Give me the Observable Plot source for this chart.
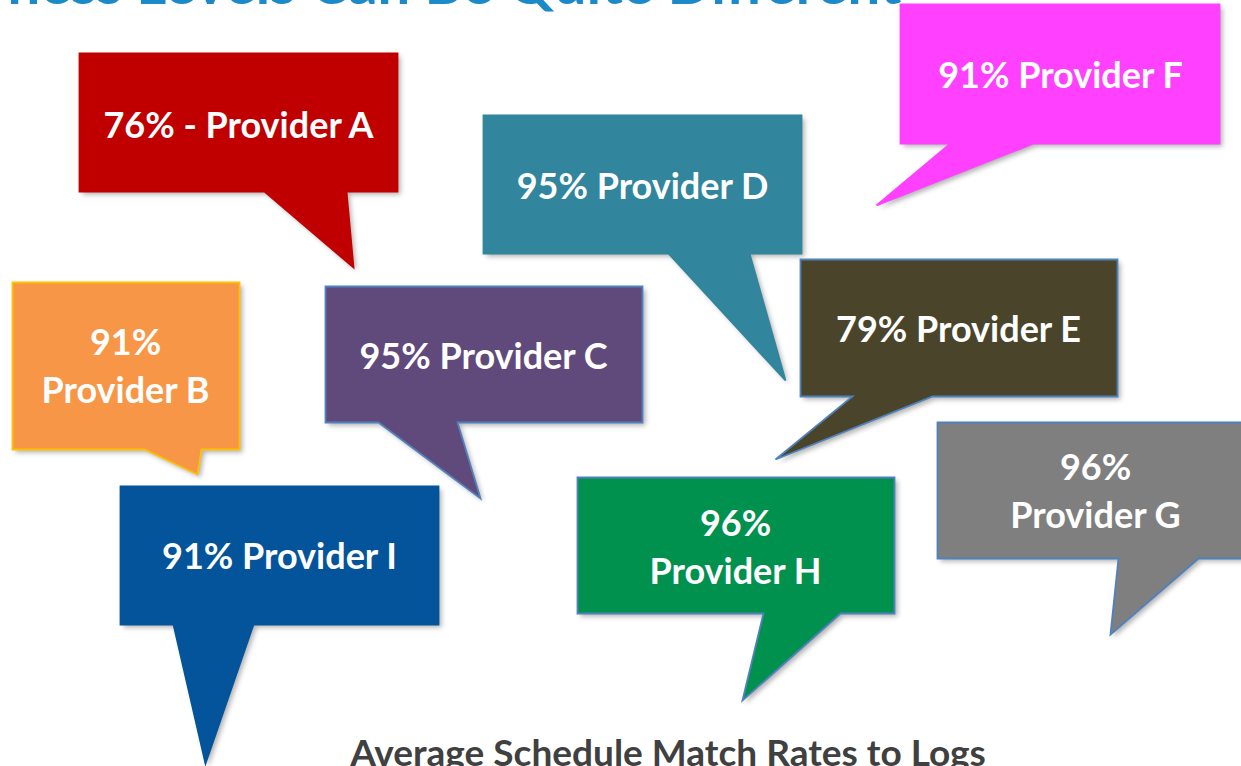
<!DOCTYPE html>
<html>
<head>
<meta charset="utf-8">
<script src="https://cdn.jsdelivr.net/npm/d3@7"></script>
<script src="https://cdn.jsdelivr.net/npm/@observablehq/plot@0.6"></script>
<style>
  html, body { margin: 0; padding: 0; background: #ffffff; overflow: hidden; width: 1241px; height: 766px; }
  #chart svg { display: block; }
</style>
</head>
<body>
<div id="chart"></div>
<script>
// ---- data ----
const providers = ["Provider A", "Provider B", "Provider C", "Provider D", "Provider E",
                   "Provider F", "Provider G", "Provider H", "Provider I"];
const matchRates = [76, 91, 95, 95, 79, 91, 96, 96, 91];
const labelJoiners = [" - ", "\n", " ", " ", " ", " ", "\n", "\n", " "];
const titleText = "ness Levels Can Be Quite Different";
const captionText = "Average Schedule Match Rates to Logs";

// ---- styles ----
const fillColors   = ["#C00000", "#F79646", "#604A7B", "#31859C", "#4A452A", "#FF40FF", "#7F7F7F", "#00914F", "#03549A"];
const borderColors = ["#C00000", "#FFC000", "#4F81BD", "#31859C", "#4F81BD", "#FF40FF", "#4F81BD", "#4F81BD", "#03549A"];

// ---- layout (slide units: px from top-left) ----
// box: [left, top, right, bottom]
const bubbleBoxes = [
  [79, 53, 397, 191], [12, 282, 239, 449], [325, 286, 642, 422], [483, 115, 801, 253], [800, 259, 1117, 396],
  [900, 4, 1219, 143], [937, 422, 1253, 558], [577, 477, 894, 613], [120, 486, 438, 624]
];
// tail: [base x1, base x2, tip x, tip y]
const bubbleTails = [
  [264, 346, 353, 267], [144, 201, 197, 474], [378, 457, 480, 498], [668, 749, 785, 380], [852, 932, 775, 459],
  [950, 1033, 876, 205], [1118, 1198, 1110, 634], [763, 840, 742, 700], [173, 253, 205, 763]
];
// label anchor: [center x, baseline of last line]
const labelAnchors = [
  [238, 137], [125, 402], [483, 368], [642, 198], [958, 341],
  [1060, 87], [1095, 527], [735, 583], [279, 568]
];

// ---- build tables ----
const outline = providers.flatMap((p, i) => {
  const [l, t, r, b] = bubbleBoxes[i];
  const [a1, a2, tx, ty] = bubbleTails[i];
  return [[l, t], [r, t], [r, b], [a2, b], [tx, ty], [a1, b], [l, b]]
    .map(([x, y]) => ({id: p, x, y, fill: fillColors[i], stroke: borderColors[i]}));
});
const labels = providers.map((p, i) => ({
  text: `${matchRates[i]}%${labelJoiners[i]}${p}`,
  x: labelAnchors[i][0],
  y: labelAnchors[i][1]
}));

const font = "Lato, 'Open Sans', 'Noto Sans', sans-serif";

const chart = Plot.plot({
  width: 1241,
  height: 766,
  margin: 0,
  style: {background: "#ffffff"},
  x: {domain: [0, 1241], range: [0, 1241], axis: null},
  y: {domain: [0, 766], range: [0, 766], axis: null},
  color: {type: "identity"},
  marks: [
    Plot.text([titleText], {
      text: d => d, frameAnchor: "top-left", textAnchor: "start", lineAnchor: "bottom",
      dx: 7, dy: 3, fontSize: 58, fontWeight: "bold", fill: "#1C8AC9", fontFamily: font
    }),
    // drop shadows
    Plot.line(outline, {
      x: "x", y: "y", z: "id", curve: "linear-closed",
      fill: "#000000", fillOpacity: 0.3, stroke: "none", dx: 3, dy: 3
    }),
    // speech bubbles
    Plot.line(outline, {
      x: "x", y: "y", z: "id", curve: "linear-closed",
      fill: "fill", stroke: "stroke", strokeWidth: 1.8, strokeLinejoin: "miter", strokeMiterlimit: 4
    }),
    Plot.text(labels, {
      x: "x", y: "y", text: "text", fill: "#ffffff", fontFamily: font, fontWeight: "bold",
      fontSize: 36, lineAnchor: "bottom", lineHeight: 1.33, textAnchor: "middle"
    }),
    Plot.text([captionText], {
      text: d => d, frameAnchor: "bottom", lineAnchor: "bottom",
      dx: 47, dy: -1, fontSize: 37, fontWeight: "bold", fill: "#404040", fontFamily: font
    })
  ]
});

const lineGroups = chart.querySelectorAll('g[aria-label="line"]');
if (lineGroups.length) lineGroups[0].style.filter = "blur(2.5px)";

document.getElementById("chart").appendChild(chart);
</script>
</body>
</html>
